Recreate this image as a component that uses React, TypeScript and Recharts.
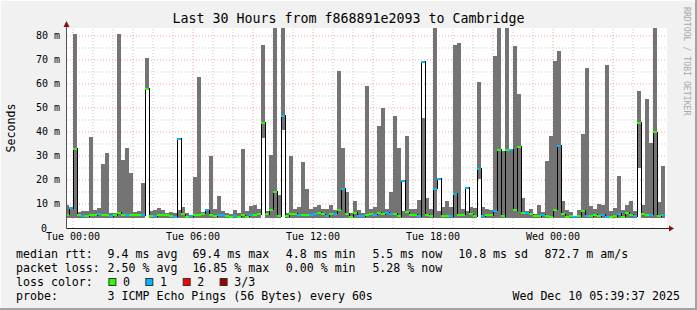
import React from 'react';
import {
  ComposedChart,
  Bar,
  Line,
  Scatter,
  XAxis,
  YAxis,
  CartesianGrid,
  ReferenceLine,
} from 'recharts';

const MONO = '"DejaVu Sans Mono", "Liberation Mono", monospace';

// 12 minute bins, first one centred at 23:42 on Monday (-0.3 h)
const firstBinHour = -0.3;
const binHours = 0.2;

// smoke: min / max rtt per bin (ms)
const minRtt = [
  4.3, 4.3,
  4.3, 4.3, 4.3, 4.3, 4.3, 4.3, 4.3, 4.3, 4.3, 4.3,
  4.3, 4.3, 4.3, 4.3, 4.3, 4.3, 4.3, 4.3, 57.5, 4.3,
  4.3, 4.3, 4.3, 4.3, 4.3, 4.3, 4.3, 4.3, 4.3, 4.3,
  4.3, 4.3, 4.3, 4.3, 4.3, 4.3, 4.3, 4.3, 4.3, 4.3,
  4.3, 4.3, 4.3, 4.3, 4.3, 4.3, 4.3, 37.6, 4.3, 4.3,
  4.3, 4.3, 41.0, 4.3, 4.3, 4.3, 4.3, 4.3, 4.3, 4.3,
  4.3, 4.3, 4.3, 4.3, 4.3, 4.3, 4.3, 4.3, 4.3, 4.3,
  4.3, 4.3, 4.3, 4.3, 4.3, 4.3, 4.3, 4.3, 4.3, 4.3,
  4.3, 4.3, 4.3, 4.3, 4.3, 4.3, 4.3, 4.3, 4.3, 4.3,
  4.3, 4.3, 4.3, 4.3, 4.3, 4.3, 4.3, 4.3, 4.3, 4.3,
  4.3, 20.5, 4.3, 4.3, 4.3, 4.3, 4.3, 4.3, 4.3, 4.3,
  4.3, 4.3, 4.3, 4.3, 4.3, 4.3, 4.3, 4.3, 4.3, 4.3,
  4.3, 4.3, 4.3, 4.3, 4.3, 4.3, 4.3, 4.3, 4.3, 4.3,
  4.3, 4.3, 4.3, 4.3, 4.3, 4.3, 4.3, 4.3, 4.3, 4.3,
  4.3, 25.1, 4.3, 4.3, 4.3, 4.3, 4.3, 4.3,
];

const maxRtt = [
  9.6, 8.5,
  80.8, 6.7, 7.1, 7.1, 37.9, 7.5, 8.3, 26.7, 31.3, 6.1,
  6.1, 80.8, 28.4, 33.4, 22.9, 6.7, 7.0, 18.8, 70.8, 7.1,
  7.5, 8.3, 7.4, 6.4, 6.7, 6.1, 7.5, 8.7, 6.1, 5.6,
  21.3, 62.9, 6.7, 7.5, 30.0, 7.9, 13.3, 7.1, 6.1, 5.7,
  7.5, 6.4, 32.9, 6.9, 9.0, 9.4, 7.9, 76.3, 7.1, 30.4,
  85, 13.8, 85, 6.1, 30.0, 7.9, 8.7, 27.5, 16.3, 7.9,
  8.7, 9.4, 7.9, 7.9, 9.4, 7.6, 65.4, 33.4, 15.1, 6.1,
  11.3, 7.5, 6.1, 59.2, 7.9, 8.7, 42.5, 50.0, 7.9, 15.0,
  46.7, 33.4, 7.0, 38.3, 7.9, 7.9, 11.7, 45.8, 12.5, 7.9,
  85, 7.1, 8.7, 11.3, 8.7, 76.3, 77.1, 7.9, 7.0, 8.7,
  8.3, 60.8, 8.7, 7.9, 7.5, 71.7, 85, 32.0, 85, 32.0,
  75.8, 55.8, 12.5, 7.1, 7.9, 5.7, 9.7, 6.7, 27.9, 38.3,
  69.6, 73.8, 11.3, 7.5, 6.7, 5.0, 7.5, 39.2, 66.7, 9.0,
  7.9, 10.0, 9.7, 67.9, 7.1, 8.3, 21.7, 7.5, 9.7, 11.3,
  7.1, 57.1, 9.7, 53.8, 35.4, 85, 10.8, 25.8,
];

const medianRtt = [
  5.5, 8.3,
  33.0, 5.3, 4.9, 5.0, 5.4, 5.3, 5.7, 5.6, 5.3, 5.0,
  5.3, 6.4, 5.6, 5.4, 5.5, 5.3, 5.6, 5.3, 58.0, 5.0,
  5.0, 5.3, 5.4, 5.3, 5.0, 4.6, 37.2, 5.8, 4.7, 5.0,
  5.3, 5.6, 6.0, 7.4, 5.3, 5.0, 5.6, 5.3, 5.0, 4.7,
  5.0, 4.7, 5.4, 4.7, 5.6, 5.6, 5.7, 43.9, 5.7, 7.6,
  15.1, 5.0, 46.7, 5.0, 6.0, 6.0, 5.6, 5.3, 5.6, 5.6,
  6.0, 6.4, 5.8, 4.9, 6.0, 6.0, 7.6, 16.4, 6.0, 4.7,
  6.4, 5.0, 5.0, 5.6, 5.7, 5.6, 6.4, 5.8, 6.4, 5.8,
  6.0, 5.0, 19.7, 6.5, 5.6, 5.6, 5.0, 69.3, 5.6, 5.0,
  16.4, 20.5, 5.0, 5.0, 5.0, 14.2, 5.6, 5.6, 16.7, 5.8,
  5.0, 24.7, 5.0, 5.6, 5.4, 7.2, 32.6, 5.0, 32.4, 32.6,
  7.5, 33.9, 6.4, 6.4, 5.8, 5.0, 5.0, 5.6, 5.0, 4.7,
  7.6, 34.3, 5.8, 4.7, 5.0, 4.7, 5.0, 7.1, 5.0, 5.0,
  5.6, 5.0, 5.6, 4.7, 4.7, 5.0, 6.0, 4.7, 6.4, 5.6,
  5.0, 43.9, 5.8, 5.6, 5.6, 40.0, 5.0, 5.6,
];

// lost pings out of 3 per bin
const lostPings = [
  0, 1,
  0, 0, 1, 0, 0, 0, 1, 0, 0, 1,
  0, 0, 0, 1, 0, 0, 0, 1, 0, 0,
  1, 0, 0, 0, 0, 1, 1, 0, 0, 1,
  0, 0, 0, 1, 0, 0, 1, 1, 0, 0,
  1, 0, 0, 0, 1, 0, 0, 0, 0, 0,
  0, 0, 1, 0, 0, 0, 1, 0, 0, 1,
  1, 0, 0, 1, 0, 1, 0, 1, 0, 0,
  0, 1, 1, 0, 0, 1, 0, 0, 1, 1,
  0, 0, 1, 0, 0, 0, 1, 1, 0, 0,
  1, 1, 0, 0, 1, 1, 0, 0, 1, 0,
  0, 1, 1, 0, 0, 1, 0, 0, 0, 1,
  0, 0, 0, 1, 0, 0, 0, 1, 0, 0,
  0, 1, 0, 0, 0, 1, 0, 0, 1, 0,
  0, 0, 1, 1, 0, 0, 1, 0, 0, 0,
  1, 0, 0, 0, 1, 0, 0, 1,
];

const lossColors = ['#26ff00', '#00b8ff', '#ff0000', '#a00000'];
const lossLabels = ['0', '1', '2', '3/3'];

const timeTicks = [0, 6, 12, 18, 24];
const timeLabels = ['Tue 00:00', 'Tue 06:00', 'Tue 12:00', 'Tue 18:00', 'Wed 00:00'];
const rttTicks = [0, 10, 20, 30, 40, 50, 60, 70, 80];

const minorRttGrid = [5, 15, 25, 35, 45, 55, 65, 75];
const majorRttGrid = [10, 20, 30, 40, 50, 60, 70, 80];
const hourGrid = Array.from({ length: 30 }, (_, h) => h);

const data = maxRtt.map((hi, i) => {
  const lo = minRtt[i];
  return {
    t: Math.round((firstBinHour + i * binHours) * 100) / 100,
    base: lo,
    smoke: Math.max(hi - lo, 0),
    med: medianRtt[i],
    loss: lostPings[i],
  };
});

const XTick = ({ x, y, payload }: any) => (
  <text x={x} y={y + 12} textAnchor="middle" fontFamily={MONO} fontSize={10} fill="#000">
    {timeLabels[timeTicks.indexOf(payload.value)]}
  </text>
);

const YTick = ({ x, y, payload }: any) => (
  <text
    x={payload.value === 0 ? x - 20 : x - 7}
    y={y + 3.5}
    textAnchor="end"
    fontFamily={MONO}
    fontSize={10}
    fill="#000"
  >
    {payload.value === 0 ? '0' : `${payload.value} m`}
  </text>
);

const MedianMark = (props: any) => {
  const { cx, cy, payload } = props;
  if (cx == null || cy == null) return null;
  return (
    <rect
      x={cx - 2}
      y={cy - 1}
      width={4}
      height={2}
      fill={lossColors[payload.loss]}
      shapeRendering="crispEdges"
    />
  );
};

const legendRows = [
  { y: 258, parts: [['median rtt:', 16], ['9.4 ms avg', 107.6], ['69.4 ms max', 192.4], ['4.8 ms min', 285.8], ['5.5 ms now', 372.4], ['10.8 ms sd', 458.2], ['872.7 m am/s', 544.4]] },
  { y: 272, parts: [['packet loss:', 16], ['2.50 % avg', 107.6], ['16.85 % max', 192.4], ['0.00 % min', 285.8], ['5.28 % now', 372.4]] },
  { y: 286, parts: [['loss color:', 16]] },
  { y: 300, parts: [['probe:', 16], ['3 ICMP Echo Pings (56 Bytes) every 60s', 107.6]] },
];
const swatchX = [108.4, 145.3, 182.7, 219.6];

export default function App() {
  return (
    <div style={{ position: 'absolute', left: 0, top: 0, width: 697, height: 310, background: '#f1f1f1' }}>
      <ComposedChart
        width={697}
        height={310}
        data={data}
        margin={{ top: 28, right: 30, bottom: 62, left: 0 }}
        barCategoryGap={0}
        barGap={0}
      >
        <CartesianGrid horizontal={false} vertical={false} fill="#ffffff" />
        {hourGrid.map((h) => (
          <ReferenceLine
            key={`v${h}`}
            x={h}
            stroke={h % 3 === 0 ? '#f2a3a3' : '#c9c9c9'}
            strokeDasharray="1 2"
            zIndex={-50}
          />
        ))}
        {minorRttGrid.map((v) => (
          <ReferenceLine key={`m${v}`} y={v} stroke="#c9c9c9" strokeDasharray="1 2" zIndex={-50} />
        ))}
        {majorRttGrid.map((v) => (
          <ReferenceLine key={`M${v}`} y={v} stroke="#f2a3a3" strokeDasharray="1 2" zIndex={-50} />
        ))}
        <XAxis
          dataKey="t"
          type="number"
          domain={[-0.3, 29.7]}
          allowDataOverflow
          ticks={timeTicks}
          tick={XTick}
          tickSize={0}
          tickMargin={0}
          axisLine={false}
          tickLine={false}
          height={20}
          interval={0}
        />
        <YAxis
          type="number"
          domain={[0, 83.333]}
          allowDataOverflow
          ticks={rttTicks}
          tick={YTick}
          tickSize={0}
          tickMargin={0}
          axisLine={false}
          tickLine={false}
          width={67}
          interval={0}
        />
        <Bar dataKey="base" stackId="smoke" barSize={4} fill="transparent" isAnimationActive={false} />
        <Bar
          dataKey="smoke"
          stackId="smoke"
          barSize={4}
          fill="#747474"
          shapeRendering="crispEdges"
          isAnimationActive={false}
        />
        <Line
          dataKey="med"
          type="step"
          stroke="#000"
          strokeWidth={1}
          shapeRendering="crispEdges"
          dot={false}
          activeDot={false}
          isAnimationActive={false}
        />
        <Scatter dataKey="med" shape={MedianMark} isAnimationActive={false} />
      </ComposedChart>

      <svg
        width={697}
        height={310}
        style={{ position: 'absolute', left: 0, top: 0, pointerEvents: 'none' }}
      >
        {/* frame */}
        <rect x={0} y={0} width={697} height={1} fill="#fcfcfc" />
        <rect x={0} y={0} width={1} height={310} fill="#fcfcfc" />
        <rect x={0} y={308} width={697} height={2} fill="#a3a3a3" />
        <rect x={695} y={0} width={2} height={310} fill="#a3a3a3" />

        {/* axes with arrows */}
        <line x1={66.5} y1={228.5} x2={670} y2={228.5} stroke="#222" />
        <line x1={66.5} y1={228.5} x2={66.5} y2={25} stroke="#555" />
        <polygon points="669,225.5 674,228.5 669,231.5" fill="#8b1010" />
        <polygon points="63.5,27 66.5,21 69.5,27" fill="#8b1010" />

        <text x={348.5} y={23} textAnchor="middle" fontFamily={MONO} fontSize={13.3} fill="#000">
          Last 30 Hours from f868891e2093 to Cambridge
        </text>
        <text
          x={15}
          y={128}
          transform="rotate(-90 15 128)"
          textAnchor="middle"
          fontFamily={MONO}
          fontSize={11.6}
          fill="#000"
        >
          Seconds
        </text>
        <text
          x={684}
          y={7}
          transform="rotate(90 684 7)"
          fontFamily={MONO}
          fontSize={8.2}
          fill="#a8a8a8"
        >
          RRDTOOL / TOBI OETIKER
        </text>

        {legendRows.map((row) =>
          row.parts.map(([s, x]) => (
            <text
              key={`${row.y}-${s}`}
              x={x as number}
              y={row.y}
              fontFamily={MONO}
              fontSize={11.6}
              fill="#000"
              style={{ whiteSpace: 'pre' }}
            >
              {s}
            </text>
          ))
        )}
        {lossColors.map((c, i) => (
          <g key={c}>
            <rect x={swatchX[i] + 0.5} y={278.5} width={7} height={7} fill={c} stroke="#333" />
            <text x={swatchX[i] + 14.6} y={286} fontFamily={MONO} fontSize={11.6} fill="#000">
              {lossLabels[i]}
            </text>
          </g>
        ))}
        <text x={680} y={300} textAnchor="end" fontFamily={MONO} fontSize={11.6} fill="#000">
          Wed Dec 10 05:39:37 2025
        </text>
      </svg>
    </div>
  );
}
